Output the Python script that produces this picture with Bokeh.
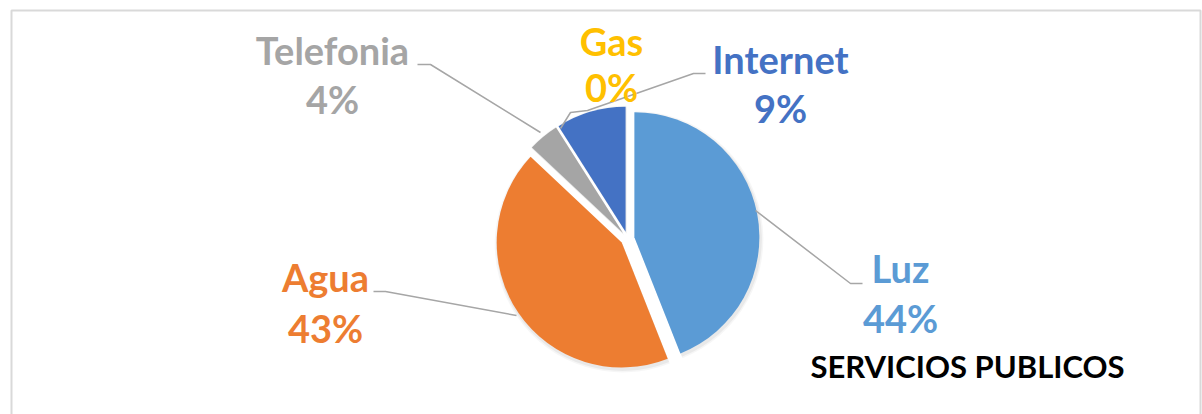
import math
from bokeh.plotting import figure
from bokeh.models import Range1d, ColumnDataSource
from bokeh.core.properties import value
from bokeh.embed import file_html
from bokeh.resources import INLINE

# ---- data ----
categories = ["Luz", "Agua", "Telefonia", "Gas", "Internet"]
percent = [44, 43, 4, 0, 9]
colors = ["#5B9BD5", "#ED7D31", "#A5A5A5", "#FFC000", "#4472C4"]
chart_title = "SERVICIOS PUBLICOS"

# ---- layout (image pixel coordinates) ----
W, H = 1202, 414
def Y(yimg):
    return H - yimg

cx, cy = 627, Y(238)
radius = 125
explode = 7

p = figure(width=W, height=H, x_range=Range1d(0, W), y_range=Range1d(0, H),
           x_axis_type=None, y_axis_type=None, toolbar_location=None,
           output_backend="svg", min_border=0, outline_line_color=None)
p.grid.visible = False
p.background_fill_color = "white"
p.border_fill_color = "white"

# chart area border
p.quad(left=[11], right=[1200], top=[Y(10)], bottom=[-10], fill_alpha=0,
       line_color="#D9D9D9", line_width=2)

total = float(sum(percent))
starts, ends, xs, ys, cols = [], [], [], [], []
cum = 0.0
for v, c in zip(percent, colors):
    a0 = 90 - 360 * cum / total
    a1 = 90 - 360 * (cum + v) / total
    mid = math.radians((a0 + a1) / 2)
    cum += v
    if v <= 0:
        continue
    starts.append(math.radians(a0))
    ends.append(math.radians(a1))
    xs.append(cx + explode * math.cos(mid))
    ys.append(cy + explode * math.sin(mid))
    cols.append(c)

src = ColumnDataSource(dict(x=xs, y=ys, s=starts, e=ends, c=cols))

# soft shadow
for k, a in [(3, 0.035), (1.5, 0.05)]:
    p.wedge(x=[x + 1 for x in xs], y=[y - 2 for y in ys], radius=radius + k,
            start_angle=starts, end_angle=ends, direction="clock",
            fill_color="black", fill_alpha=a, line_color=None)
p.wedge(x="x", y="y", radius=radius, start_angle="s", end_angle="e",
        direction="clock", fill_color="c", line_color=None, source=src)

# leader lines
leaders = {
    "Luz": [(755, 210), (850, 283), (862, 283)],
    "Agua": [(373, 291), (385, 291), (516, 315)],
    "Telefonia": [(417, 64), (430, 64), (540, 132)],
    "Internet": [(705, 73), (693, 73), (587, 110), (570, 112), (560, 128)],
}
for pts in leaders.values():
    p.line([q[0] for q in pts], [Y(q[1]) for q in pts], line_color="#A6A6A6", line_width=1.5)

# labels: (center x, visual centre line1, visual centre line2)
label_pos = {
    "Luz": (900, 269, 319),
    "Agua": (325, 278, 329),
    "Telefonia": (332, 51, 100),
    "Gas": (611, 42, 88),
    "Internet": (780, 60, 109),
}
dy = 2  # offset between anchor and visual centre of glyphs
font = value("Lato")
for cat, v, col in zip(categories, percent, colors):
    lx, c1, c2 = label_pos[cat]
    p.text(x=[lx, lx], y=[Y(c1 - dy), Y(c2 - dy)], text=[cat, f"{v}%"],
           text_color=col, text_font=font, text_font_style="bold",
           text_font_size="38px", text_align="center", text_baseline="alphabetic")

p.text(x=[967], y=[Y(367 - dy)], text=[chart_title], text_color="black",
       text_font=font, text_font_style="bold", text_font_size="31px",
       text_align="center", text_baseline="alphabetic")

open("out.html", "w").write(file_html(p, INLINE))
